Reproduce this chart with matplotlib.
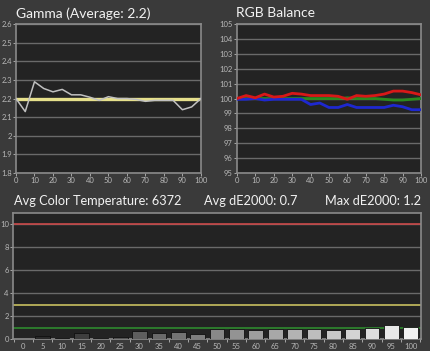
import matplotlib
matplotlib.use("Agg")
import matplotlib.pyplot as plt
import numpy as np

plt.rcParams['font.family'] = ['Lato', 'DejaVu Sans']

# ---- data ----
levels = [0, 5, 10, 15, 20, 25, 30, 35, 40, 45, 50, 55, 60, 65, 70, 75, 80, 85, 90, 95, 100]
gamma_vals = [2.20, 2.13, 2.29, 2.254, 2.236, 2.249, 2.22, 2.22, 2.207, 2.19, 2.21, 2.20,
              2.20, 2.195, 2.185, 2.19, 2.19, 2.19, 2.14, 2.155, 2.20]
gamma_target = 2.2
red_vals = [100.0, 100.2, 100.05, 100.3, 100.1, 100.15, 100.35, 100.3, 100.2, 100.2, 100.2,
            100.15, 99.95, 100.2, 100.15, 100.2, 100.3, 100.5, 100.5, 100.4, 100.25]
green_vals = [100.0, 100.0, 100.0, 100.0, 100.0, 100.0, 100.0, 100.0, 100.0, 100.0, 100.0,
              100.0, 100.05, 100.0, 100.0, 100.0, 99.95, 99.9, 99.9, 99.95, 100.0]
blue_vals = [99.95, 99.95, 100.0, 99.9, 99.95, 99.95, 99.95, 99.95, 99.6, 99.7, 99.4,
             99.4, 99.6, 99.4, 99.4, 99.4, 99.4, 99.55, 99.45, 99.25, 99.25]
de_vals = [0.02, 0.3, 0.05, 0.55, 0.05, 0.2, 0.7, 0.5, 0.65, 0.4, 0.85, 0.85, 0.8, 0.85,
           0.9, 0.9, 0.8, 0.85, 0.95, 1.2, 1.05]
de_thresholds = [(10, '#c84848'), (3, '#c8c060'), (1, '#2e8a2e')]
title_gamma = "Gamma (Average: 2.2)"
title_rgb = "RGB Balance"
title_temp = "Avg Color Temperature: 6372"
title_avg = "Avg dE2000: 0.7"
title_max = "Max dE2000: 1.2"

FIG_BG = '#3a3a3a'
AX_BG = '#232323'
GRID = '#6a6a6a'
SPINE = '#8a8a8a'
TICK = '#b8b8b8'
TITLE = '#f2f2f2'
TSIZE = 10
BSIZE = 9.2

fig = plt.figure(figsize=(4.30, 3.51), dpi=100, facecolor=FIG_BG)

def style(ax):
    ax.set_facecolor(AX_BG)
    for s in ax.spines.values():
        s.set_color(SPINE)
        s.set_linewidth(1.2)
    ax.tick_params(colors=TICK, labelsize=5.5, length=2, width=0.6, pad=1)
    for lab in ax.get_xticklabels() + ax.get_yticklabels():
        lab.set_color(TICK)

def fmt(v):
    s = f"{v:.1f}"
    return s[:-2] if s.endswith('.0') else s

# Gamma
ax1 = fig.add_axes([0.0372, 0.507, 0.430, 0.4245])
ax1.plot(levels, [gamma_target] * len(levels), color='#e6e08c', lw=2.4, zorder=2)
ax1.plot(levels, gamma_vals, color='#c0c0c0', lw=1.1, zorder=3)
ax1.set_xlim(0, 100)
ax1.set_ylim(1.8, 2.6)
yt = np.round(np.arange(1.8, 2.61, 0.1), 1)
ax1.set_yticks(yt)
ax1.set_yticklabels([fmt(v) for v in yt])
ax1.set_xticks(range(0, 101, 10))
ax1.yaxis.grid(True, color=GRID, lw=1.0)
ax1.set_axisbelow(True)
style(ax1)
fig.text(0.0372, 0.962, title_gamma, color=TITLE, fontsize=TSIZE, ha='left', va='center')

# RGB
ax2 = fig.add_axes([0.551, 0.507, 0.428, 0.4245])
ax2.plot(levels, green_vals, color='#2a8a1e', lw=2.0, zorder=3)
ax2.plot(levels, blue_vals, color='#1e28d0', lw=2.0, zorder=4)
ax2.plot(levels, red_vals, color='#d81818', lw=2.0, zorder=5)
ax2.set_xlim(0, 100)
ax2.set_ylim(95, 105)
ax2.set_yticks(range(95, 106))
ax2.set_xticks(range(0, 101, 10))
ax2.yaxis.grid(True, color=GRID, lw=1.0)
ax2.set_axisbelow(True)
style(ax2)
fig.text(0.549, 0.962, title_rgb, color=TITLE, fontsize=TSIZE, ha='left', va='center')

# dE bars
ax3 = fig.add_axes([0.0302, 0.0342, 0.949, 0.359])
pos = np.arange(len(levels))
colors = [str(0.12 + 0.83 * (l / 100.0)) for l in levels]
ax3.bar(pos, de_vals, width=0.76, color=colors, edgecolor='#101010', lw=0.6, zorder=3)
for val, c in de_thresholds:
    ax3.axhline(val, color=c, lw=1.2, zorder=2)
ax3.set_xlim(-0.53, len(levels) - 0.47)
ax3.set_ylim(0, 11)
ax3.set_yticks(range(0, 11, 2))
ax3.set_xticks(pos)
ax3.set_xticklabels([str(l) for l in levels])
ax3.set_xticks(np.arange(-0.5, len(levels), 1.0), minor=True)
ax3.yaxis.grid(True, color=GRID, lw=1.0)
ax3.set_axisbelow(True)
style(ax3)
ax3.tick_params(axis='x', which='major', length=0, pad=3)
ax3.tick_params(axis='x', which='minor', length=2, color=TICK, width=0.6)
fig.text(0.033, 0.428, title_temp, color=TITLE, fontsize=BSIZE, ha='left', va='center')
fig.text(0.474, 0.428, title_avg, color=TITLE, fontsize=BSIZE, ha='left', va='center')
fig.text(0.979, 0.428, title_max, color=TITLE, fontsize=BSIZE, ha='right', va='center')

fig.savefig('out.png', dpi=100, facecolor=FIG_BG)
